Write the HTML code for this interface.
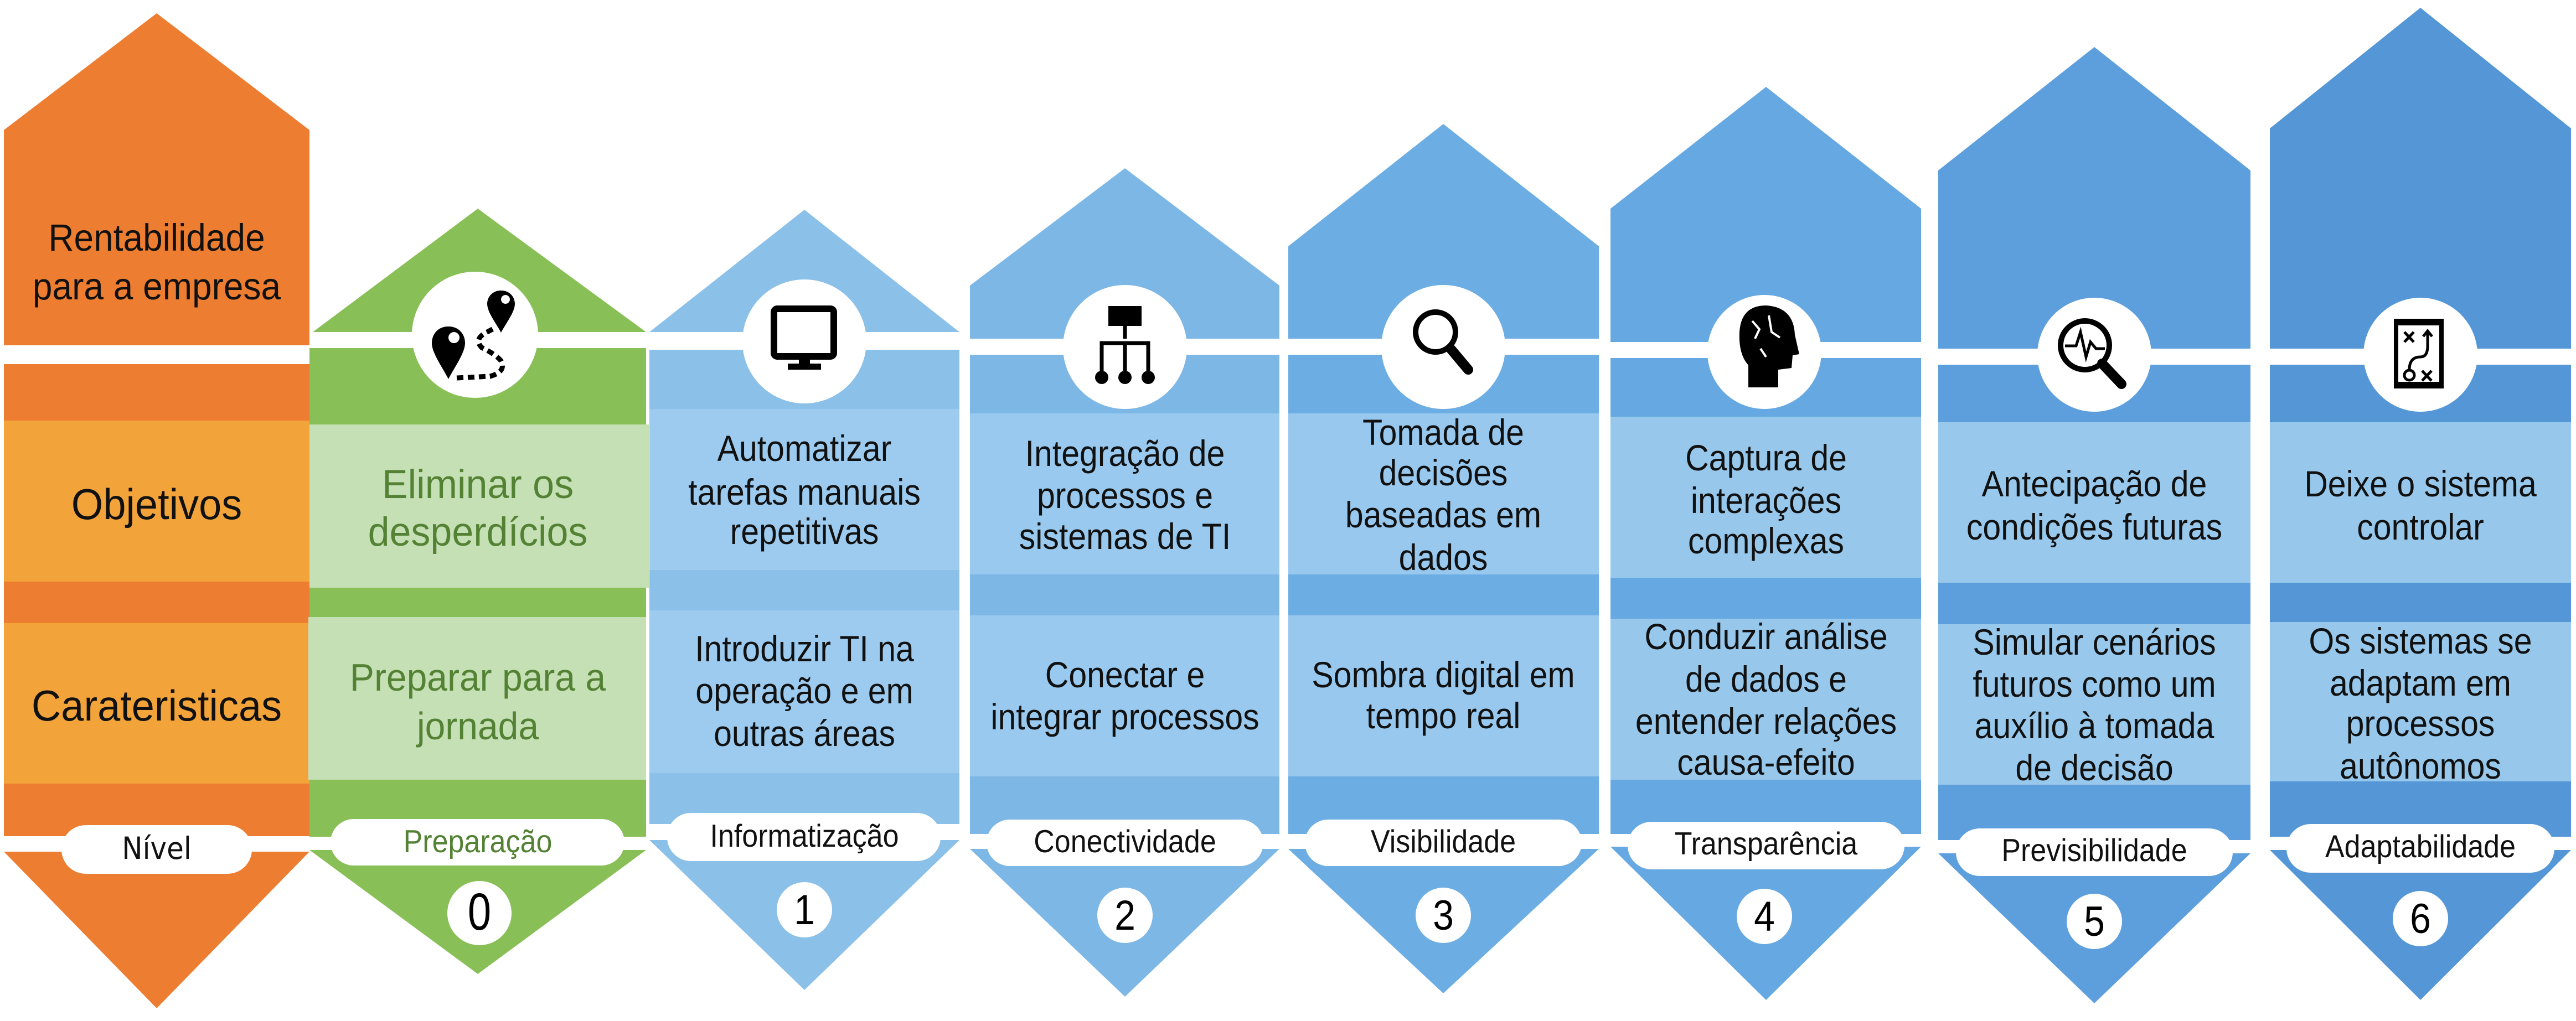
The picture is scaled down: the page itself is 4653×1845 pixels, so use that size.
<!DOCTYPE html>
<html><head><meta charset="utf-8">
<style>
html,body{margin:0;padding:0;background:#fff;}
svg{display:block;}
text{font-family:"Liberation Sans",Arial,sans-serif;}
.dj{font-family:"DejaVu Sans","Liberation Sans",sans-serif;}
</style></head>
<body>
<svg width="4653" height="1845" viewBox="0 0 4653 1845" xmlns="http://www.w3.org/2000/svg">
<rect width="4653" height="1845" fill="#fff"/>

<!-- ORANGE column -->
<polygon points="7,235 283,24 559,235 559,624 7,624" fill="#ED7D31"/>
<rect x="7" y="658" width="552" height="102" fill="#ED7D31"/>
<rect x="7" y="760" width="552" height="291" fill="#F2A33A"/>
<rect x="7" y="1051" width="552" height="75" fill="#ED7D31"/>
<rect x="7" y="1126" width="552" height="290" fill="#F2A33A"/>
<rect x="7" y="1416" width="552" height="95" fill="#ED7D31"/>
<polygon points="7,1539 559,1539 283,1822" fill="#ED7D31"/>
<rect x="111" y="1491" width="344" height="88" rx="44" fill="#fff"/>
<g fill="#111" text-anchor="middle" font-size="64">
<text transform="translate(283,453) scale(1,1.08)">Rentabilidade</text>
<text transform="translate(283,541) scale(1,1.08)">para a empresa</text>
<text transform="translate(283,938) scale(1,1.05)" font-size="74">Objetivos</text>
<text transform="translate(283,1302) scale(1,1.05)" font-size="74">Carateristicas</text>
<text transform="translate(283,1552) scale(1,1.1)" font-size="50" class="dj">Nível</text>
</g>

<!-- GREEN column -->
<polygon points="565,600 863,377 1167,600" fill="#88BF56"/>
<rect x="559" y="629" width="608" height="138" fill="#88BF56"/>
<rect x="559" y="767" width="613" height="295" fill="#C5E0B4"/>
<rect x="559" y="1062" width="608" height="53" fill="#88BF56"/>
<rect x="557" y="1115" width="610" height="294" fill="#C5E0B4"/>
<rect x="559" y="1409" width="608" height="103" fill="#88BF56"/>
<polygon points="559,1536 1167,1536 863,1760" fill="#88BF56"/>
<rect x="597" y="1480" width="531" height="84" rx="42" fill="#fff"/>
<circle cx="858" cy="605" r="114" fill="#fff"/>
<circle cx="866" cy="1650" r="58" fill="#fff"/>
<g fill="#000">
<path d="M810,590 c-20,0 -30,15 -30,30 c0,18 20,45 30,65 c10,-20 30,-47 30,-65 c0,-15 -10,-30 -30,-30z M810,610 a10,10 0 1,1 0,0.1z" fill-rule="evenodd"/>
<path d="M905,525 c-16,0 -25,12 -25,24 c0,15 16,35 25,52 c9,-17 25,-37 25,-52 c0,-12 -9,-24 -25,-24z M905,541 a8,8 0 1,1 0,0.1z" fill-rule="evenodd"/>
</g>
<path d="M825,683 L885,680 Q915,672 905,652 Q895,640 870,628 Q855,612 880,600 L895,592" fill="none" stroke="#000" stroke-width="9" stroke-dasharray="12,8"/>
<g fill="#548235" text-anchor="middle" font-size="70" class="dj">
<text transform="translate(863,900) scale(1,1.05)">Eliminar os</text>
<text transform="translate(863,986) scale(1,1.05)">desperdícios</text>
<text transform="translate(863,1248) scale(1,1.05)" font-size="66">Preparar para a</text>
<text transform="translate(863,1336) scale(1,1.05)" font-size="66">jornada</text>
<text transform="translate(863,1540) scale(1,1.1)" font-size="52">Preparação</text>
</g>
<text transform="translate(866,1680) scale(1,1.25)" font-size="76" text-anchor="middle" fill="#000">0</text>

<!-- COL 1 -->
<polygon points="1173,600 1453,379 1733,600" fill="#8BC0E9"/>
<rect x="1173" y="632" width="560" height="107" fill="#8BC0E9"/>
<rect x="1173" y="739" width="560" height="291" fill="#9DCBEF"/>
<rect x="1173" y="1030" width="560" height="73" fill="#8BC0E9"/>
<rect x="1173" y="1103" width="560" height="294" fill="#9DCBEF"/>
<rect x="1173" y="1397" width="560" height="92" fill="#8BC0E9"/>
<polygon points="1173,1518 1733,1518 1453,1789" fill="#8BC0E9"/>
<rect x="1205" y="1469" width="494" height="87" rx="43" fill="#fff"/>
<circle cx="1453" cy="617" r="112" fill="#fff"/>
<circle cx="1453" cy="1644" r="50" fill="#fff"/>
<rect x="1398" y="558" width="108" height="86" rx="6" fill="none" stroke="#000" stroke-width="12"/>
<rect x="1443" y="644" width="20" height="16" fill="#000"/><rect x="1423" y="657" width="60" height="11" fill="#000"/>

<!-- COL 2 -->
<polygon points="1752,516 2032,304 2311,516 2311,612 1752,612" fill="#7DB7E5"/>
<rect x="1752" y="641" width="559" height="106" fill="#7DB7E5"/>
<rect x="1752" y="747" width="559" height="291" fill="#99C9EE"/>
<rect x="1752" y="1038" width="559" height="74" fill="#7DB7E5"/>
<rect x="1752" y="1112" width="559" height="291" fill="#99C9EE"/>
<rect x="1752" y="1403" width="559" height="104" fill="#7DB7E5"/>
<polygon points="1752,1534 2311,1534 2032,1801" fill="#7DB7E5"/>
<rect x="1782" y="1481" width="500" height="84" rx="42" fill="#fff"/>
<circle cx="2032" cy="627" r="112" fill="#fff"/>
<circle cx="2032" cy="1654" r="50" fill="#fff"/>
<rect x="2002" y="553" width="60" height="36" fill="#000"/>
<path d="M2032,589 V612 M1990,642 V620 H2074 V642 M2032,620 V642" stroke="#000" stroke-width="7" fill="none"/>
<circle cx="1990" cy="682" r="12" fill="#000"/><circle cx="2032" cy="682" r="12" fill="#000"/><circle cx="2074" cy="682" r="12" fill="#000"/>
<path d="M1990,640 V670 M2032,640 V670 M2074,640 V670" stroke="#000" stroke-width="7"/>

<!-- COL 3 -->
<polygon points="2327,445 2607,224 2888,445 2888,612 2327,612" fill="#6CAEE3"/>
<rect x="2327" y="641" width="561" height="106" fill="#6CAEE3"/>
<rect x="2327" y="747" width="561" height="291" fill="#98C8EE"/>
<rect x="2327" y="1038" width="561" height="74" fill="#6CAEE3"/>
<rect x="2327" y="1112" width="561" height="291" fill="#98C8EE"/>
<rect x="2327" y="1403" width="561" height="104" fill="#6CAEE3"/>
<polygon points="2327,1534 2888,1534 2607,1795" fill="#6CAEE3"/>
<rect x="2357" y="1481" width="500" height="84" rx="42" fill="#fff"/>
<circle cx="2607" cy="627" r="112" fill="#fff"/>
<circle cx="2607" cy="1654" r="50" fill="#fff"/>
<circle cx="2593" cy="600" r="36" fill="none" stroke="#000" stroke-width="10"/>
<path d="M2620,630 L2652,668" stroke="#000" stroke-width="18" stroke-linecap="round"/>

<!-- COL 4 -->
<polygon points="2909,377 3190,157 3470,377 3470,618 2909,618" fill="#65A8E2"/>
<rect x="2909" y="647" width="561" height="106" fill="#65A8E2"/>
<rect x="2909" y="753" width="561" height="291" fill="#97C8EC"/>
<rect x="2909" y="1044" width="561" height="74" fill="#65A8E2"/>
<rect x="2909" y="1118" width="561" height="291" fill="#97C8EC"/>
<rect x="2909" y="1409" width="561" height="98" fill="#65A8E2"/>
<polygon points="2909,1530 3470,1530 3190,1807" fill="#65A8E2"/>
<rect x="2940" y="1485" width="500" height="86" rx="43" fill="#fff"/>
<circle cx="3187" cy="636" r="103" fill="#fff"/>
<circle cx="3187" cy="1656" r="50" fill="#fff"/>
<path d="M3142,600 Q3145,552 3190,552 Q3240,555 3242,605 L3250,640 L3238,642 L3236,665 L3212,668 L3212,700 L3158,700 L3158,660 Q3140,640 3142,600z" fill="#000"/>
<path d="M3165,580 L3178,595 L3170,612 M3195,570 L3200,600 L3215,610 M3180,630 L3190,645" stroke="#fff" stroke-width="4" fill="none"/>

<!-- COL 5 -->
<polygon points="3501,308 3783,85 4065,308 4065,630 3501,630" fill="#5D9FDC"/>
<rect x="3501" y="659" width="564" height="104" fill="#5D9FDC"/>
<rect x="3501" y="763" width="564" height="290" fill="#98C8EC"/>
<rect x="3501" y="1053" width="564" height="75" fill="#5D9FDC"/>
<rect x="3501" y="1128" width="564" height="290" fill="#98C8EC"/>
<rect x="3501" y="1418" width="564" height="100" fill="#5D9FDC"/>
<polygon points="3501,1542 4065,1542 3783,1813" fill="#5D9FDC"/>
<rect x="3533" y="1497" width="500" height="86" rx="43" fill="#fff"/>
<circle cx="3783" cy="641" r="103" fill="#fff"/>
<circle cx="3783" cy="1665" r="50" fill="#fff"/>
<circle cx="3766" cy="624" r="44" fill="none" stroke="#000" stroke-width="10"/>
<path d="M3797,657 L3832,694" stroke="#000" stroke-width="18" stroke-linecap="round"/>
<path d="M3730,625 H3750 L3758,600 L3768,645 L3776,618 L3786,630 H3802" stroke="#000" stroke-width="5" fill="none"/>

<!-- COL 6 -->
<polygon points="4100,232 4372,14 4644,232 4644,630 4100,630" fill="#5597D6"/>
<rect x="4100" y="659" width="544" height="104" fill="#5597D6"/>
<rect x="4100" y="763" width="544" height="290" fill="#97C8EC"/>
<rect x="4100" y="1053" width="544" height="71" fill="#5597D6"/>
<rect x="4100" y="1124" width="544" height="288" fill="#97C8EC"/>
<rect x="4100" y="1412" width="544" height="100" fill="#5597D6"/>
<polygon points="4100,1536 4644,1536 4372,1807" fill="#5597D6"/>
<rect x="4130" y="1489" width="484" height="88" rx="44" fill="#fff"/>
<circle cx="4372" cy="641" r="103" fill="#fff"/>
<circle cx="4372" cy="1660" r="50" fill="#fff"/>
<rect x="4328" y="580" width="82" height="118" fill="none" stroke="#000" stroke-width="8"/>
<rect x="4328" y="576" width="82" height="12" fill="#000"/><rect x="4328" y="690" width="82" height="12" fill="#000"/>
<g stroke="#000" stroke-width="5" fill="none">
<path d="M4343,600 L4360,618 M4360,600 L4343,618 M4375,670 L4392,688 M4392,670 L4375,688"/>
<circle cx="4352" cy="678" r="9"/>
<path d="M4352,668 Q4352,645 4372,645 Q4385,645 4385,625 V600 M4377,608 L4385,598 L4393,608"/>
</g>

<!-- Blue column texts -->
<g fill="#111" text-anchor="middle" font-size="59">
<text transform="translate(1453,833) scale(1,1.12)">Automatizar</text>
<text transform="translate(1453,912) scale(1,1.12)">tarefas manuais</text>
<text transform="translate(1453,983) scale(1,1.12)">repetitivas</text>
<text transform="translate(1453,1195) scale(1,1.12)">Introduzir TI na</text>
<text transform="translate(1453,1271) scale(1,1.12)">operação e em</text>
<text transform="translate(1453,1348) scale(1,1.12)">outras áreas</text>
<text transform="translate(1453,1530) scale(1,1.1)" font-size="52">Informatização</text>

<text transform="translate(2032,842) scale(1,1.12)">Integração de</text>
<text transform="translate(2032,918) scale(1,1.12)">processos e</text>
<text transform="translate(2032,992) scale(1,1.12)">sistemas de TI</text>
<text transform="translate(2032,1242) scale(1,1.12)">Conectar e</text>
<text transform="translate(2032,1318) scale(1,1.12)">integrar processos</text>
<text transform="translate(2032,1540) scale(1,1.1)" font-size="52">Conectividade</text>

<text transform="translate(2607,804) scale(1,1.12)">Tomada de</text>
<text transform="translate(2607,877) scale(1,1.12)">decisões</text>
<text transform="translate(2607,953) scale(1,1.12)">baseadas em</text>
<text transform="translate(2607,1030) scale(1,1.12)">dados</text>
<text transform="translate(2607,1242) scale(1,1.12)">Sombra digital em</text>
<text transform="translate(2607,1316) scale(1,1.12)">tempo real</text>
<text transform="translate(2607,1540) scale(1,1.1)" font-size="52">Visibilidade</text>

<text transform="translate(3190,850) scale(1,1.12)">Captura de</text>
<text transform="translate(3190,927) scale(1,1.12)">interações</text>
<text transform="translate(3190,1000) scale(1,1.12)">complexas</text>
<text transform="translate(3190,1173) scale(1,1.12)">Conduzir análise</text>
<text transform="translate(3190,1250) scale(1,1.12)">de dados e</text>
<text transform="translate(3190,1326) scale(1,1.12)">entender relações</text>
<text transform="translate(3190,1400) scale(1,1.12)">causa-efeito</text>
<text transform="translate(3190,1544) scale(1,1.1)" font-size="52">Transparência</text>

<text transform="translate(3783,897) scale(1,1.12)">Antecipação de</text>
<text transform="translate(3783,975) scale(1,1.12)">condições futuras</text>
<text transform="translate(3783,1183) scale(1,1.12)">Simular cenários</text>
<text transform="translate(3783,1259) scale(1,1.12)">futuros como um</text>
<text transform="translate(3783,1334) scale(1,1.12)">auxílio à tomada</text>
<text transform="translate(3783,1410) scale(1,1.12)">de decisão</text>
<text transform="translate(3783,1556) scale(1,1.1)" font-size="52">Previsibilidade</text>

<text transform="translate(4372,897) scale(1,1.12)">Deixe o sistema</text>
<text transform="translate(4372,975) scale(1,1.12)">controlar</text>
<text transform="translate(4372,1181) scale(1,1.12)">Os sistemas se</text>
<text transform="translate(4372,1257) scale(1,1.12)">adaptam em</text>
<text transform="translate(4372,1330) scale(1,1.12)">processos</text>
<text transform="translate(4372,1407) scale(1,1.12)">autônomos</text>
<text transform="translate(4372,1549) scale(1,1.1)" font-size="52">Adaptabilidade</text>
</g>
<g fill="#000" text-anchor="middle" font-size="68">
<text transform="translate(1453,1670) scale(1,1.12)">1</text>
<text transform="translate(2032,1680) scale(1,1.12)">2</text>
<text transform="translate(2607,1680) scale(1,1.12)">3</text>
<text transform="translate(3187,1682) scale(1,1.12)">4</text>
<text transform="translate(3783,1691) scale(1,1.12)">5</text>
<text transform="translate(4372,1686) scale(1,1.12)">6</text>
</g>
</svg>
</body></html>
